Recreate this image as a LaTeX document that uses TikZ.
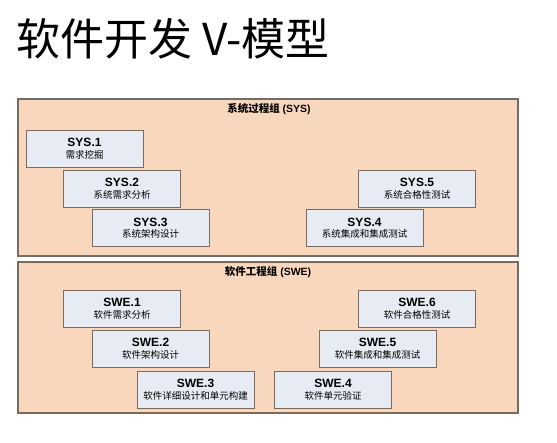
\documentclass[tikz,border=0pt]{standalone}
\usepackage{fontspec}
\setmainfont{Liberation Sans}
\newfontfamily\cjk{Noto Sans CJK SC}
\usepackage{tikz}

\definecolor{groupfill}{RGB}{249,215,188}
\definecolor{boxfill}{RGB}{231,236,244}
\definecolor{edgegray}{RGB}{120,108,98}

\begin{document}
\begin{tikzpicture}[x=1pt,y=-1pt]

        \useasboundingbox (0,0) rectangle (557,442);

        \node[anchor=base west, inner sep=0pt, font=\fontsize{44}{46}\selectfont\cjk] (title) at (16,55) {软件开发 V-模型};

        \begin{scope}[every node/.style={rectangle, draw=edgegray, line width=1.1pt, fill=groupfill, inner sep=0pt}]
          \node[minimum width=500pt, minimum height=157pt] (sys) at (268,177.5) {};
          \node[minimum width=500pt, minimum height=151pt] (swe) at (268,337.5) {};
        \end{scope}

        \begin{scope}[every node/.style={inner sep=0pt, font=\fontsize{10.5}{12}\selectfont\bfseries}]
          \node (syslabel) at (269,109) {{\cjk 系统过程组} (SYS)};
          \node (swelabel) at (268,272) {{\cjk 软件工程组} (SWE)};
        \end{scope}

        \begin{scope}[every node/.style={rectangle, draw=edgegray, line width=0.9pt, fill=boxfill,
            minimum width=117pt, minimum height=37pt, inner sep=0pt, align=center,
            font=\fontsize{12}{12.5}\selectfont\bfseries}]
          \node (s1) at (84.5,148.5) {SYS.1\\[-1pt]{\cjk\mdseries\fontsize{9.5}{11}\selectfont 需求挖掘}};
          \node (s2) at (122,188.5)  {SYS.2\\[-1pt]{\cjk\mdseries\fontsize{9.5}{11}\selectfont 系统需求分析}};
          \node (s3) at (150.5,228)  {SYS.3\\[-1pt]{\cjk\mdseries\fontsize{9.5}{11}\selectfont 系统架构设计}};
          \node (s4) at (364.5,228)  {SYS.4\\[-1pt]{\cjk\mdseries\fontsize{9.5}{11}\selectfont 系统集成和集成测试}};
          \node (s5) at (417,188.5)  {SYS.5\\[-1pt]{\cjk\mdseries\fontsize{9.5}{11}\selectfont 系统合格性测试}};
          \node (w1) at (122,308.5)  {SWE.1\\[-1pt]{\cjk\mdseries\fontsize{9.5}{11}\selectfont 软件需求分析}};
          \node (w2) at (150.5,348.5) {SWE.2\\[-1pt]{\cjk\mdseries\fontsize{9.5}{11}\selectfont 软件架构设计}};
          \node (w3) at (195.5,389.5) {SWE.3\\[-1pt]{\cjk\mdseries\fontsize{9.5}{11}\selectfont 软件详细设计和单元构建}};
          \node (w4) at (333,389.5)  {SWE.4\\[-1pt]{\cjk\mdseries\fontsize{9.5}{11}\selectfont 软件单元验证}};
          \node (w5) at (377.5,348.5) {SWE.5\\[-1pt]{\cjk\mdseries\fontsize{9.5}{11}\selectfont 软件集成和集成测试}};
          \node (w6) at (417,308.5)  {SWE.6\\[-1pt]{\cjk\mdseries\fontsize{9.5}{11}\selectfont 软件合格性测试}};
        \end{scope}

      \end{tikzpicture}
\end{document}
